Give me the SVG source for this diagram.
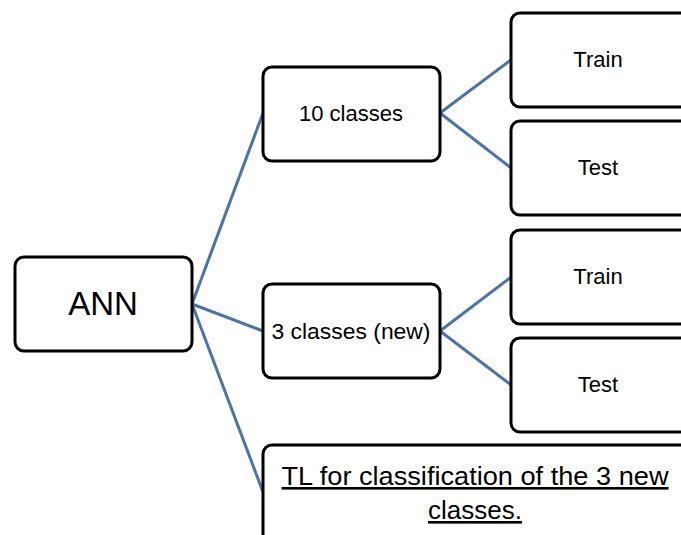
<svg xmlns="http://www.w3.org/2000/svg" width="681" height="535" viewBox="0 0 681 535">
<style>
.box{fill:#fff;stroke:#000;stroke-width:3}
.lbl{font-family:"Liberation Sans",Arial,sans-serif;font-size:22px;fill:#000;text-anchor:middle}
.con{stroke:#4a74aa;stroke-width:3;fill:none}
</style>
<rect width="681" height="535" fill="#fff"/>
<g id="connectors">
<line class="con" x1="192" y1="304" x2="263" y2="113"/>
<line class="con" x1="192" y1="304" x2="263" y2="331"/>
<line class="con" x1="192" y1="304" x2="263" y2="492"/>
<line class="con" x1="440" y1="113" x2="511" y2="60"/>
<line class="con" x1="440" y1="113" x2="511" y2="168"/>
<line class="con" x1="440" y1="331" x2="511" y2="277"/>
<line class="con" x1="440" y1="331" x2="511" y2="385"/>
</g>
<g id="ann"><rect class="box" x="15" y="257" width="177" height="94" rx="9"/><text class="lbl" x="103" y="315" style="font-size:33px">ANN</text></g>
<g id="c10"><rect class="box" x="263" y="67" width="177" height="94" rx="9"/><text class="lbl" x="351" y="121">10 classes</text></g>
<g id="c3"><rect class="box" x="263" y="284" width="177" height="94" rx="9"/><text class="lbl" x="351" y="339" textLength="159" lengthAdjust="spacingAndGlyphs">3 classes (new)</text></g>
<g id="train1"><rect class="box" x="511" y="13" width="190" height="94" rx="9"/><text class="lbl" x="598" y="67">Train</text></g>
<g id="test1"><rect class="box" x="511" y="121" width="190" height="94" rx="9"/><text class="lbl" x="598" y="175">Test</text></g>
<g id="train2"><rect class="box" x="511" y="230" width="190" height="94" rx="9"/><text class="lbl" x="598" y="284">Train</text></g>
<g id="test2"><rect class="box" x="511" y="338" width="190" height="94" rx="9"/><text class="lbl" x="598" y="392">Test</text></g>
<g id="tl"><rect class="box" x="263" y="445" width="440" height="110" rx="9"/>
<text class="lbl" x="475" y="485" style="font-size:26px;text-decoration:underline" textLength="387" lengthAdjust="spacingAndGlyphs">TL for classification of the 3 new</text>
<text class="lbl" x="475" y="519" style="font-size:26px;text-decoration:underline">classes.</text></g>
</svg>
